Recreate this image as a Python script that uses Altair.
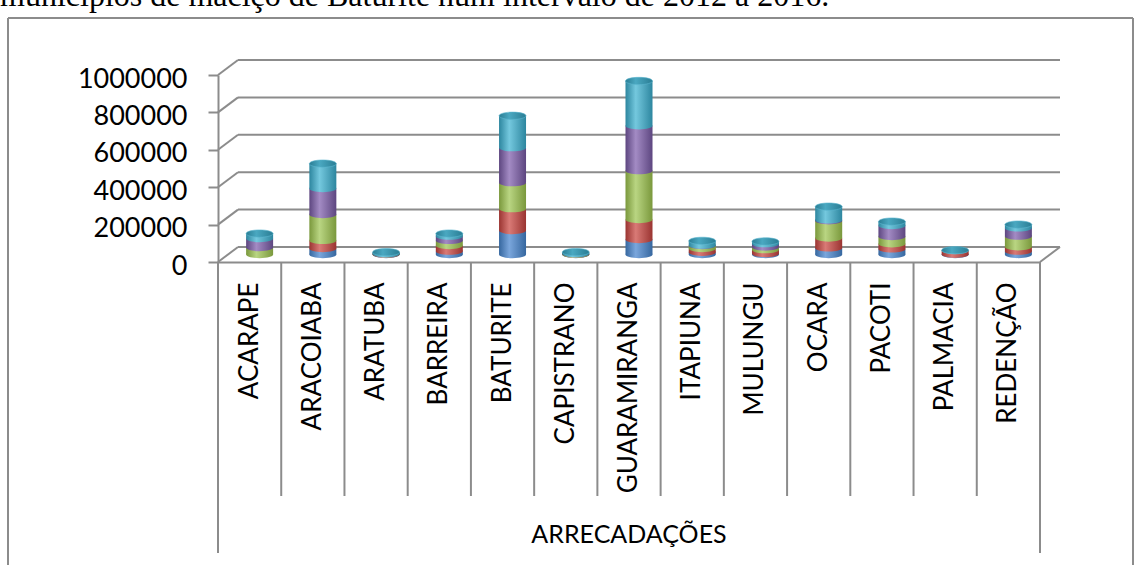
import altair as alt
import pandas as pd

# ---- data ----
municipios = ["ACARAPE", "ARACOIABA", "ARATUBA", "BARREIRA", "BATURITE", "CAPISTRANO",
              "GUARAMIRANGA", "ITAPIUNA", "MULUNGU", "OCARA", "PACOTI", "PALMACIA", "REDENÇÃO"]
series = ["2012", "2013", "2014", "2015", "2016"]
v2012 = [0, 32000, 1000, 18000, 128000, 1000, 80000, 12000, 5000, 35000, 30000, 1000, 18000]
v2013 = [0, 43000, 1500, 30000, 117000, 1000, 107000, 20000, 21000, 53000, 27000, 20000, 23000]
v2014 = [37000, 139000, 1500, 27000, 139000, 2500, 261000, 16000, 14000, 92000, 39000, 0, 57000]
v2015 = [48000, 139000, 500, 23000, 187000, 500, 240000, 2000, 18000, 5000, 59000, 0, 44000]
v2016 = [27000, 133000, 8000, 14000, 171000, 8000, 240000, 23000, 12000, 71000, 21000, 2000, 18000]
y_ticks = [0, 200000, 400000, 600000, 800000, 1000000]
group_label = "ARRECADAÇÕES"
top_text = "municípios de maciço de Baturité num intervalo de 2012 a 2016."

values = [v2012, v2013, v2014, v2015, v2016]
rows = []
for k, s in enumerate(series):
    for m, v in zip(municipios, values[k]):
        rows.append({"municipio": m, "serie": s, "ordem": k, "valor": v})
df = pd.DataFrame(rows)

# ---- style ----
W, H = 822, 187
DX, DY = 20, 15          # depth offset of back wall
BW = 27                  # cylinder width
GRID = "#8c8c8c"
FONT = "Lato"

def grad(dark, light):
    return alt.LinearGradient(gradient="linear", x1=0, x2=1, y1=0, y2=0,
                              stops=[alt.GradientStop(offset=0, color=dark),
                                     alt.GradientStop(offset=0.38, color=light),
                                     alt.GradientStop(offset=1, color=dark)])

grads = [grad("#36679f", "#7aa6dc"), grad("#9a3431", "#d97a76"),
         grad("#7a983c", "#b9d582"), grad("#5d4680", "#a38bc4"),
         grad("#2d869f", "#74c8de")]
top_grad = grad("#2a7d94", "#4aa8c1")

ELL = ("M-1,0 C-1,-0.149 -0.552,-0.27 0,-0.27 C0.552,-0.27 1,-0.149 1,0 "
       "C1,0.149 0.552,0.27 0,0.27 C-0.552,0.27 -1,0.149 -1,0 Z")

xscale = alt.Scale(domain=municipios, paddingInner=0, paddingOuter=0)
yscale = alt.Scale(domain=[0, 1000000])

xaxis = alt.Axis(labelAngle=270, labelAlign="right", labelBaseline="middle",
                 labelPadding=20, labelFont=FONT, labelFontSize=26, labelColor="black",
                 ticks=False, domainColor=GRID, domainWidth=2, labelLimit=400,
                 title=None, grid=False)
yaxis = alt.Axis(values=y_ticks, format="d", labelFont=FONT, labelFontSize=27,
                 labelColor="black", labelPadding=21, labelOffset=4, tickSize=10, tickColor=GRID,
                 tickWidth=2, domainColor=GRID, domainWidth=2, grid=False, title=None)


def X(bp=None):
    if bp is None:
        return alt.X("municipio:N", sort=municipios, scale=xscale, axis=xaxis)
    return alt.X("municipio:N", sort=municipios, scale=xscale, axis=xaxis, bandPosition=bp)


def Y(field):
    return alt.Y(field, scale=yscale, axis=yaxis)


base = alt.Chart(df).transform_stack(
    stack="valor", groupby=["municipio"], as_=["y0", "y1"],
    sort=[alt.SortField("ordem", order="ascending")])

layers = []

# back wall gridlines and perspective diagonals
ticks_df = pd.DataFrame({"t": y_ticks})
layers.append(alt.Chart(ticks_df).mark_rule(color=GRID, strokeWidth=2, yOffset=-DY).encode(
    y=Y("t:Q"), x=alt.value(DX), x2=alt.value(W + DX)))
layers.append(alt.Chart(ticks_df).mark_rule(color=GRID, strokeWidth=2, y2Offset=-DY).encode(
    y=Y("t:Q"), y2="t:Q", x=alt.value(0), x2=alt.value(DX)))
layers.append(alt.Chart(pd.DataFrame({"t": [0]})).mark_rule(color=GRID, strokeWidth=2, y2Offset=-DY).encode(
    y=Y("t:Q"), y2="t:Q", x=alt.value(W), x2=alt.value(W + DX)))

# category dividers
inner_df = pd.DataFrame({"municipio": municipios[1:]})
layers.append(alt.Chart(inner_df).mark_rule(color=GRID, strokeWidth=2).encode(
    x=X(0), y=alt.value(H), y2=alt.value(H + 234)))
layers.append(alt.Chart(pd.DataFrame({"municipio": [municipios[0]]})).mark_rule(color=GRID, strokeWidth=2).encode(
    x=X(0), y=alt.value(H), y2=alt.value(H + 291)))
layers.append(alt.Chart(pd.DataFrame({"municipio": [municipios[-1]]})).mark_rule(color=GRID, strokeWidth=2).encode(
    x=X(1), y=alt.value(H), y2=alt.value(H + 291)))

# cylinders
for k in range(len(series)):
    seg = base.transform_filter(f"datum.ordem == {k} && datum.valor > 0")
    layers.append(seg.mark_point(shape=ELL, size=BW * BW, filled=True, opacity=1, fill=grads[k],
                                 strokeWidth=0, xOffset=10, yOffset=-7.5).encode(
        x=X(), y=Y("y0:Q")))
    layers.append(seg.mark_bar(size=BW, fill=grads[k], xOffset=10, yOffset=-7.5, y2Offset=-7.5).encode(
        x=X(), y=Y("y0:Q"), y2="y1:Q"))
top = base.transform_filter(f"datum.ordem == {len(series) - 1}")
layers.append(top.mark_point(shape=ELL, size=BW * BW, filled=True, opacity=1, fill=top_grad,
                             stroke="#5bb6cf", strokeWidth=0.6, xOffset=10, yOffset=-7.5).encode(
    x=X(), y=Y("y1:Q")))

# group label
layers.append(alt.Chart(pd.DataFrame({"t": [group_label]})).mark_text(
    font=FONT, fontSize=25, color="black", align="center", baseline="middle").encode(
    text="t:N", x=alt.value(W / 2), y=alt.value(460)))

# outer frame of the embedded chart
layers.append(alt.Chart(pd.DataFrame({"a": [0]})).mark_rule(color=GRID, strokeWidth=2).encode(
    x=alt.value(-210), y=alt.value(-57), y2=alt.value(500)))
layers.append(alt.Chart(pd.DataFrame({"a": [0]})).mark_rule(color=GRID, strokeWidth=2).encode(
    x=alt.value(-210), x2=alt.value(915), y=alt.value(-57)))
layers.append(alt.Chart(pd.DataFrame({"a": [0]})).mark_rule(color=GRID, strokeWidth=2).encode(
    x=alt.value(915), y=alt.value(-57), y2=alt.value(500)))

# clipped document text above the chart
layers.append(alt.Chart(pd.DataFrame({"t": [top_text]})).mark_text(
    font="Liberation Serif", fontSize=32, color="black", align="left", baseline="alphabetic").encode(
    text="t:N", x=alt.value(-218), y=alt.value(-69)))

chart = alt.layer(*layers).properties(
    width=W, height=H, autosize="none", background="white",
    padding={"left": 218, "top": 75, "right": 99, "bottom": 303},
).configure_view(stroke=None)

chart.save("out.html", embed_options={"renderer": "svg", "actions": False})
